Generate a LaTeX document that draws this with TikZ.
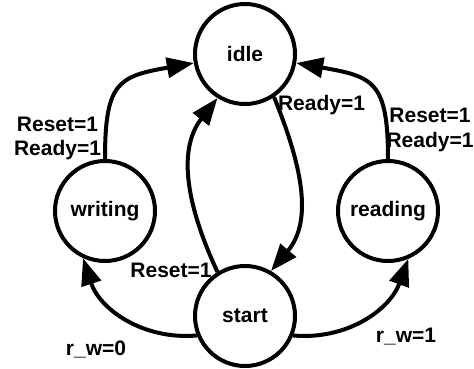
\documentclass[tikz,border=0pt]{standalone}
\usepackage{fontspec}
\setmainfont{Liberation Sans}
\usetikzlibrary{arrows.meta}
\tikzset{
  state/.style={circle, draw, line width=4pt, minimum size=100pt, inner sep=0pt,
    font=\fontsize{21}{24}\selectfont\bfseries},
  conn/.style={line width=4pt, -{Triangle[length=27pt,width=20pt]}},
  lbl/.style={inner sep=0pt, align=center, font=\fontsize{21}{24.5}\selectfont\bfseries}
}
\begin{document}
\begin{tikzpicture}[x=1pt,y=1pt]
\useasboundingbox (0,0) rectangle (474,368);
\node[state] (idle) at (245,314) {idle};
\node[state] (writing) at (105,157) {writing};
\node[state] (reading) at (388,157) {reading};
\node[state] (start) at (245,52) {start};

\draw[conn] (writing) to[out=90,in=190,looseness=1.5] (idle);
\draw[conn] (reading) to[out=90,in=-10,looseness=1.5] (idle);
\draw[conn] (idle.-56) to[out=-68,in=50] (start.60);
\draw[conn] (start.122) to[out=115,in=-128] (idle.-122);
\draw[conn] (start.202) to[out=185,in=-72] (writing.245);
\draw[conn] (start.-22) to[out=-5,in=-110] (reading.-67);

\node[lbl, anchor=center] (l1) at (57.5,229.3) {Reset=1\\Ready=1};
\node[lbl, anchor=center] (l2) at (430,237.8) {Reset=1\\Ready=1};
\node[lbl, anchor=base] (l3) at (321.5,258) {Ready=1};
\node[lbl, anchor=base] (l4) at (171,91) {Reset=1};
\node[lbl, anchor=base] (l5) at (96,13) {r\_w=0};
\node[lbl, anchor=base] (l6) at (406,26) {r\_w=1};
\end{tikzpicture}
\end{document}
